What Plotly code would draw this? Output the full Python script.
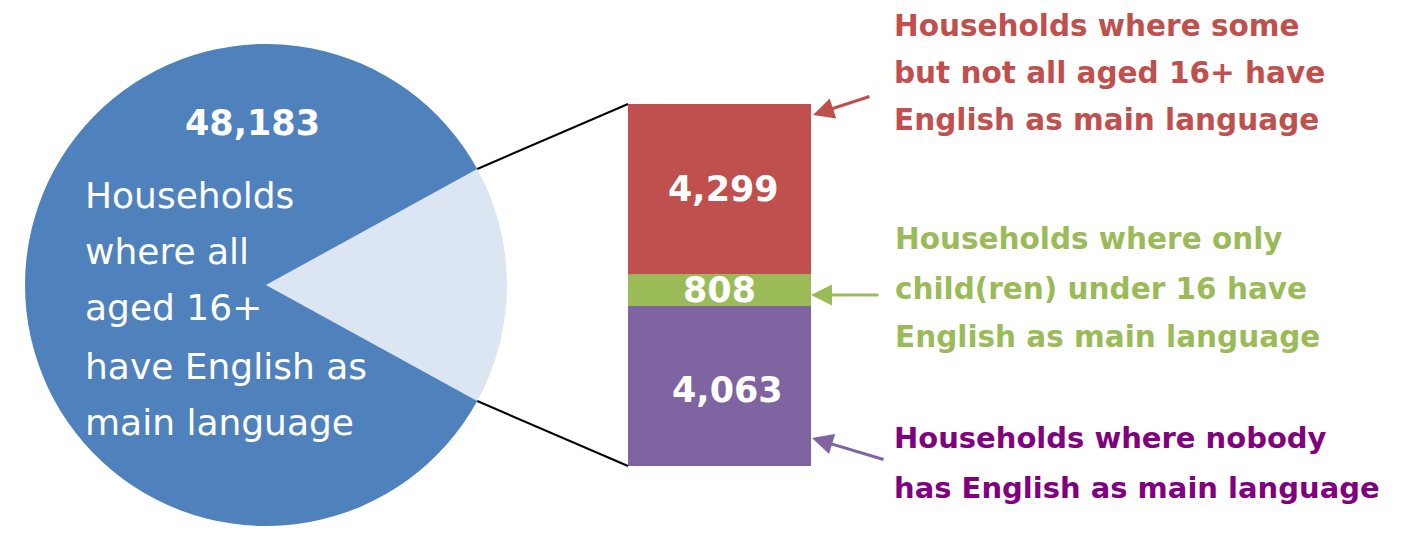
import math
import plotly.graph_objects as go

# ---------------- data ----------------
pie_label = "48,183"
all_english = 48183
bar_categories = ["Households where nobody has English as main language",
                  "Households where only child(ren) under 16 have English as main language",
                  "Households where some but not all aged 16+ have English as main language"]
bar_values = [4063, 808, 4299]          # bottom -> top
bar_colors = ["#8064A2", "#9BBB59", "#C0504D"]
bar_labels = ["4,063", "808", "4,299"]
pie_text_lines = ["Households", "where all", "aged 16+", "have English as", "main language"]
red_lines = ["Households where some", "but not all aged 16+ have", "English as main language"]
green_lines = ["Households where only", "child(ren) under 16 have", "English as main language"]
purple_lines = ["Households where nobody", "has English as main language"]

WIN_W, WIN_H = 1403, 540
OFF = 8                      # page body margin
W, H = WIN_W - OFF, WIN_H - OFF
FONT = "DejaVu Sans"

def X(px):
    return (px - OFF) / W

def Y(py):
    return 1 - (py - OFF) / H

# ---------------- geometry (window pixels) ----------------
cx, cy, R = 266, 285, 241
bar_l, bar_r, bar_t, bar_b = 628, 811, 104, 466

other_total = sum(bar_values)
total = all_english + other_total
half_angle = other_total / total * 180.0  # degrees

fig = go.Figure()

fig.add_trace(go.Pie(
    values=[other_total, all_english],
    labels=["Other households", "All aged 16+ have English"],
    marker=dict(colors=["#DCE6F2", "#4F81BD"], line=dict(width=0)),
    sort=False,
    direction="clockwise",
    rotation=90 - half_angle,
    textinfo="none",
    hoverinfo="skip",
    showlegend=False,
    domain=dict(x=[X(cx - R), X(cx + R)], y=[Y(cy + R), Y(cy - R)]),
))

for name, v, c in zip(bar_categories, bar_values, bar_colors):
    fig.add_trace(go.Bar(
        x=[0], y=[v], name=name, marker=dict(color=c, line=dict(width=0)),
        width=1, showlegend=False, hoverinfo="skip",
    ))

annotations = []

# bar value labels at segment midpoints
cum = 0
shifts = [(8, -4), (0, 0), (4, 0)]
for v, lab, sh in zip(bar_values, bar_labels, shifts):
    annotations.append(dict(
        x=0, y=cum + v / 2, xref="x", yref="y", text=f"<b>{lab}</b>",
        showarrow=False, xshift=sh[0], yshift=sh[1],
        font=dict(family=FONT, size=35, color="white"),
        xanchor="center", yanchor="middle",
    ))
    cum += v

def line_ann(text, left, baseline, size, color, bold=False):
    t = f"<b>{text}</b>" if bold else text
    return dict(
        x=X(left), y=Y(baseline - 0.36 * size), xref="paper", yref="paper",
        text=t, showarrow=False, xanchor="left", yanchor="middle",
        font=dict(family=FONT, size=size, color=color),
    )

# pie number
annotations.append(dict(
    x=X(252), y=Y(136 - 0.36 * 35), xref="paper", yref="paper",
    text=f"<b>{pie_label}</b>", showarrow=False, xanchor="center", yanchor="middle",
    font=dict(family=FONT, size=35, color="white"),
))
for txt, bl in zip(pie_text_lines, [208, 264, 320, 379, 435]):
    annotations.append(line_ann(txt, 83, bl, 36, "white"))

for txt, bl in zip(red_lines, [37, 84, 131]):
    annotations.append(line_ann(txt, 892, bl, 29.5, "#C0504D", bold=True))
for txt, bl in zip(green_lines, [250, 300, 348]):
    annotations.append(line_ann(txt, 893, bl, 29.5, "#9BBB59", bold=True))
for txt, bl in zip(purple_lines, [448, 498]):
    annotations.append(line_ann(txt, 892, bl, 29, "#800080", bold=True))

# arrows
def arrow(tip, tail, color):
    return dict(
        x=X(tip[0]), y=Y(tip[1]), xref="paper", yref="paper",
        ax=tail[0] - tip[0], ay=tail[1] - tip[1], axref="pixel", ayref="pixel",
        text="", showarrow=True, arrowhead=2, arrowsize=1.4, arrowwidth=3,
        arrowcolor=color, standoff=0, startstandoff=0,
    )

annotations.append(arrow((813, 115), (871, 96), "#C0504D"))
annotations.append(arrow((811, 295), (880, 295), "#9BBB59"))
annotations.append(arrow((812, 438), (885, 460), "#8064A2"))

# connector lines from slice edges to bar corners
a = math.radians(half_angle)
ux, uy = cx + R * math.cos(a), cy - R * math.sin(a)
lx, ly = cx + R * math.cos(a), cy + R * math.sin(a)
shapes = [
    dict(type="line", xref="paper", yref="paper", x0=X(ux), y0=Y(uy), x1=X(bar_l), y1=Y(bar_t),
         line=dict(color="black", width=2)),
    dict(type="line", xref="paper", yref="paper", x0=X(lx), y0=Y(ly), x1=X(bar_l), y1=Y(bar_b),
         line=dict(color="black", width=2)),
]

fig.update_layout(
    width=W, height=H,
    margin=dict(l=0, r=0, t=0, b=0),
    paper_bgcolor="white", plot_bgcolor="rgba(0,0,0,0)",
    barmode="stack", bargap=0,
    xaxis=dict(domain=[X(bar_l), X(bar_r)], range=[-0.5, 0.5], visible=False, fixedrange=True),
    yaxis=dict(domain=[Y(bar_b), Y(bar_t)], range=[0, other_total], visible=False, fixedrange=True),
    annotations=annotations,
    shapes=shapes,
    showlegend=False,
)

fig.write_html("out.html")
